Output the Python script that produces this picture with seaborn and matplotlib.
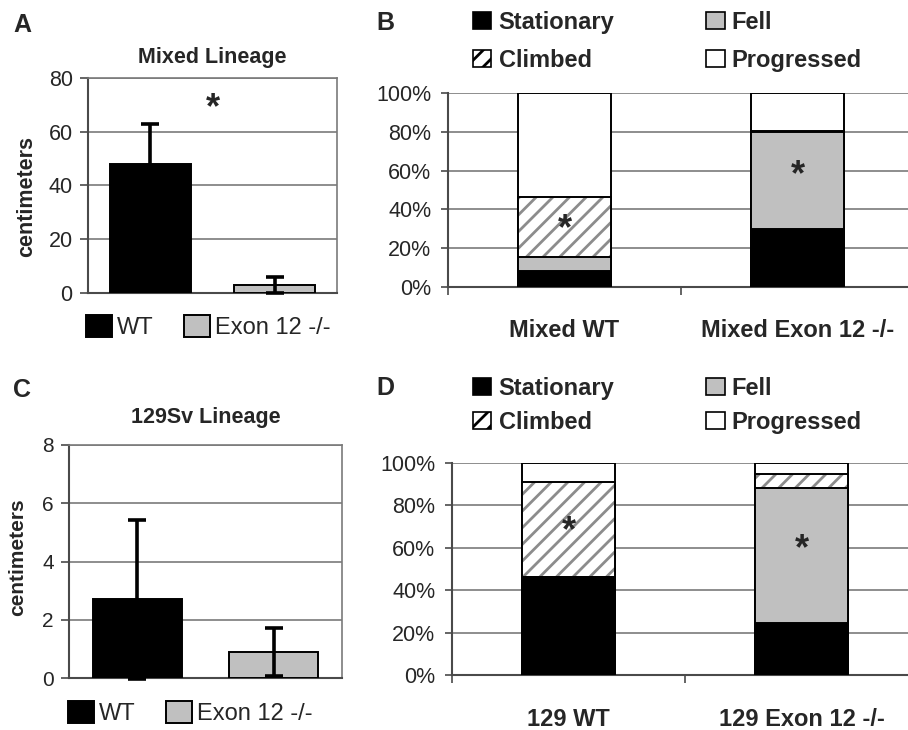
import numpy as np
import pandas as pd
import matplotlib
matplotlib.use("Agg")
import matplotlib.pyplot as plt
from matplotlib.patches import Patch
from matplotlib.ticker import PercentFormatter, FixedLocator
import seaborn as sns

# ---------------- data ----------------
lineage_groups = ["WT", "Exon 12 -/-"]
mixed_means = [47.9, 3.0]
mixed_errors = [14.9, 3.0]
sv129_means = [2.7, 0.9]
sv129_errors = [2.72, 0.83]

outcome_labels = ["Stationary", "Fell", "Climbed", "Progressed"]
mixed_groups = ["Mixed WT", "Mixed Exon 12 -/-"]
mixed_stationary = [8.0, 29.7]
mixed_fell = [7.5, 50.4]
mixed_climbed = [30.7, 0.5]
mixed_progressed = [53.8, 19.4]

sv129_groups = ["129 WT", "129 Exon 12 -/-"]
sv129_stationary = [46.3, 24.4]
sv129_fell = [0.0, 63.5]
sv129_climbed = [44.7, 6.6]
sv129_progressed = [9.0, 5.5]

# significance markers (category index, value)
mixed_mean_star = (0.5, 68.5)
mixed_outcome_stars = [(0, 29.6), (1, 57.5)]
sv129_outcome_stars = [(0, 67.6), (1, 59.1)]

# ---------------- style ----------------
sns.set_style("white")
plt.rcParams["font.family"] = ["Liberation Sans", "DejaVu Sans"]
plt.rcParams["hatch.linewidth"] = 2.0

BLACK = "black"
GREY = "#c0c0c0"
GRID = "#7a7a7a"
SPINE = "#4a4a4a"
HATCH = "#8c8c8c"

W, H = 908, 730
fig = plt.figure(figsize=(W / 100, H / 100), dpi=100)
fig.patch.set_facecolor("white")


def px_axes(left, top, right, bottom):
    return fig.add_axes([left / W, 1 - bottom / H, (right - left) / W, (bottom - top) / H])


def mean_panel(ax, means, errors, ymax, step, tick_size, label_size, title, title_pad, label_xy, legend_xy):
    df = pd.DataFrame({"group": lineage_groups, "value": means})
    sns.barplot(data=df, x="group", y="value", hue="group", order=lineage_groups,
                hue_order=lineage_groups, palette=[BLACK, GREY], saturation=1, width=0.65,
                edgecolor="black", linewidth=1.4, errorbar=None, legend=False, ax=ax, zorder=3)
    ax.errorbar(np.arange(len(means)), means, yerr=errors, fmt="none", ecolor="black",
                elinewidth=2.6, capsize=6.5, capthick=2.6, zorder=4, clip_on=False)
    ax.set_xlim(-0.5, len(means) - 0.5)
    ax.set_ylim(0, ymax)
    ax.set_yticks(np.arange(0, ymax + step / 2, step))
    ax.set_axisbelow(True)
    ax.yaxis.grid(True, color=GRID, lw=1.2)
    ax.xaxis.grid(False)
    ax.set_xticks([])
    ax.set_xlabel("")
    for s in ["left", "bottom"]:
        ax.spines[s].set_color(SPINE)
        ax.spines[s].set_linewidth(1.5)
    for s in ["top", "right"]:
        ax.spines[s].set_color(GRID)
        ax.spines[s].set_linewidth(1.2)
    ax.tick_params(axis="y", direction="out", length=5.5, width=1.2, color=SPINE,
                   labelsize=tick_size, pad=5.5, left=True)
    ax.set_title(title, fontsize=15.5, fontweight="bold", pad=title_pad)
    ax.set_ylabel("centimeters", fontsize=label_size, fontweight="bold", va="center")
    ax.yaxis.set_label_coords(*label_xy)
    handles = [Patch(facecolor=BLACK, edgecolor="black", linewidth=1.4),
               Patch(facecolor=GREY, edgecolor="black", linewidth=1.4)]
    ax.legend(handles, lineage_groups, ncol=2, loc="center left",
              bbox_to_anchor=(legend_xy[0] / W, 1 - legend_xy[1] / H), bbox_transform=fig.transFigure,
              frameon=False, fontsize=17, handlelength=1.1, handleheight=1.1, handletextpad=0.2,
              columnspacing=1.3, borderpad=0, borderaxespad=0)


def outcome_panel(ax, groups, stationary, fell, climbed, progressed, stars, xpad, legend_xy, rowgap):
    st = np.array(stationary)
    fe = np.array(fell)
    cl = np.array(climbed)
    pr = np.array(progressed)
    layers = [
        (st + fe + cl + pr, dict(color="white", edgecolor="black", linewidth=1.4)),
        (st + fe + cl, dict(color="white", edgecolor=HATCH, linewidth=0, hatch="//")),
        (st + fe + cl, dict(color="black", fill=False, linewidth=1.4)),
        (st + fe, dict(color=GREY, edgecolor="black", linewidth=1.4)),
        (st, dict(color=BLACK, edgecolor="black", linewidth=1.4)),
    ]
    for heights, kw in layers:
        sns.barplot(x=groups, y=heights, order=groups, width=0.4, saturation=1,
                    errorbar=None, ax=ax, zorder=3, **kw)
    ax.set_xlim(-0.5, len(groups) - 0.5)
    ax.set_ylim(0, 100)
    ax.set_yticks(np.arange(0, 101, 20))
    ax.yaxis.set_major_formatter(PercentFormatter(decimals=0))
    ax.set_axisbelow(True)
    ax.yaxis.grid(True, color=GRID, lw=1.2)
    ax.xaxis.grid(False)
    ax.set_xlabel("")
    ax.set_ylabel("")
    ax.spines["left"].set_color(SPINE)
    ax.spines["bottom"].set_color(SPINE)
    ax.spines["left"].set_linewidth(1.5)
    ax.spines["bottom"].set_linewidth(1.5)
    ax.spines["top"].set_visible(False)
    ax.spines["right"].set_visible(False)
    ax.tick_params(axis="y", direction="out", length=5, width=1.2, color=SPINE,
                   labelsize=15.5, pad=7, left=True)
    ax.tick_params(axis="x", which="major", length=0, pad=xpad, labelsize=17)
    ax.xaxis.set_minor_locator(FixedLocator([-0.5, 0.5, 1.5]))
    ax.tick_params(axis="x", which="minor", direction="out", length=6, width=1.2,
                   color=SPINE, bottom=True)
    for lbl in ax.get_xticklabels():
        lbl.set_fontweight("bold")
    for x, y in stars:
        ax.text(x, y, "*", ha="center", va="center", fontsize=26, fontweight="bold", zorder=6)
    handles = [Patch(facecolor=BLACK, edgecolor="black", linewidth=1.2),
               Patch(facecolor="white", edgecolor="black", linewidth=1.2, hatch="//"),
               Patch(facecolor=GREY, edgecolor="black", linewidth=1.2),
               Patch(facecolor="white", edgecolor="black", linewidth=1.2)]
    labels = [outcome_labels[0], outcome_labels[2], outcome_labels[1], outcome_labels[3]]
    ax.legend(handles, labels, ncol=2, loc="upper left",
              bbox_to_anchor=(legend_xy[0] / W, 1 - legend_xy[1] / H), bbox_transform=fig.transFigure,
              frameon=False, prop={"size": 17, "weight": "bold"}, handlelength=0.78,
              handleheight=0.7, handletextpad=0.3, columnspacing=3.9, labelspacing=rowgap,
              borderpad=0, borderaxespad=0)


# Panel A
axA = px_axes(88, 78, 337, 293)
mean_panel(axA, mixed_means, mixed_errors, 80, 20, 15.5, 15.5, "Mixed Lineage", 11,
           (-0.245, 0.449), (86, 327))
axA.text(*mixed_mean_star, "*", ha="center", va="center", fontsize=26, fontweight="bold", zorder=6)

# Panel B
axB = px_axes(448, 93.3, 914, 286.7)
outcome_panel(axB, mixed_groups, mixed_stationary, mixed_fell, mixed_climbed, mixed_progressed,
              mixed_outcome_stars, 23, (473, 11), 0.62)

# Panel C
axC = px_axes(69, 445, 342, 678)
mean_panel(axC, sv129_means, sv129_errors, 8, 2, 15, 15, "129Sv Lineage", 16,
           (-0.19, 0.52), (68, 713))

# Panel D
axD = px_axes(452, 462.7, 918, 675)
outcome_panel(axD, sv129_groups, sv129_stationary, sv129_fell, sv129_climbed, sv129_progressed,
              sv129_outcome_stars, 24, (473, 377), 0.45)

# panel letters
for letter, x, y in [("A", 13, 32), ("B", 376, 30), ("C", 13, 397), ("D", 376, 395)]:
    fig.text(x / W, 1 - y / H, letter, fontsize=18, fontweight="bold", va="baseline")

fig.savefig("out.png", dpi=100, facecolor="white")
